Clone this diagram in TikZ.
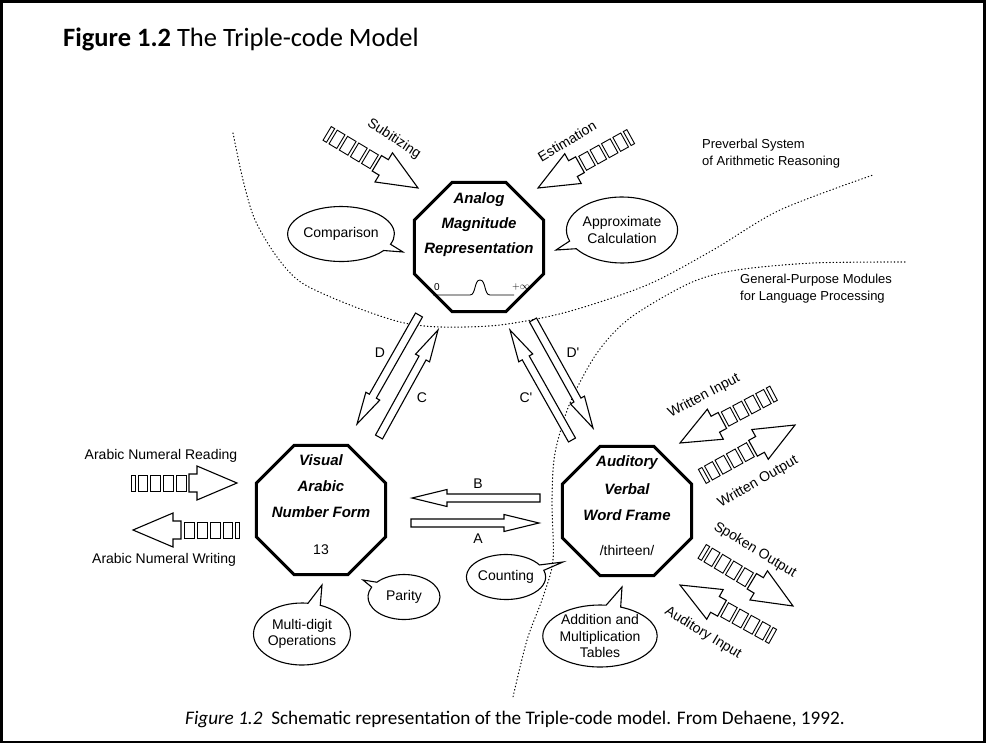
\documentclass[tikz,border=0pt]{standalone}
\usepackage{fontspec}
\setmainfont{Liberation Sans}
\newfontfamily\capfont{Carlito}
\usetikzlibrary{calc,shapes.geometric,shapes.callouts}

% hollow block arrow: from, to, shaft half width, head half width, head length
\newcommand\hollowarrow[5]{%
  \coordinate (hb) at ($(#2)!#5!(#1)$);
  \draw[arrowline] ($(#1)!#3!90:(#2)$) -- ($(hb)!#3!90:(#2)$) -- ($(hb)!#4!90:(#2)$)
    -- (#2) -- ($(hb)!#4!-90:(#2)$) -- ($(hb)!#3!-90:(#2)$) -- ($(#1)!#3!-90:(#2)$) -- cycle;
}

\tikzset{
  octagon/.style={regular polygon, regular polygon sides=8, minimum size=140pt,
    inner sep=0pt, draw, line width=3pt},
  octtext/.style={font=\fontsize{15}{15}\selectfont\bfseries\itshape, inner sep=0pt},
  plain/.style={font=\fontsize{14}{14}\selectfont, inner sep=0pt},
  small/.style={font=\fontsize{13}{17}\selectfont, inner sep=0pt, align=left},
  bubble/.style={ellipse callout, draw, line width=1.1pt, align=center, inner sep=0pt,
    font=\fontsize{14}{16.5}\selectfont},
  arrowline/.style={draw, line width=1.1pt, line join=miter, fill=white},
  boxline/.style={draw, line width=0.9pt, fill=white},
  boundary/.style={line width=1.1pt, dash pattern=on 0.6pt off 2.8pt, line cap=round},
  % input/output stream: block arrow with its tip at the origin, pointing along +x,
  % trailed by a row of boxes
  stream/.pic={
    \path[arrowline] (0,0) -- (-40,-17) -- (-40,-9) -- (-48,-9) -- (-48,9) -- (-40,9)
      -- (-40,17) -- cycle;
    \foreach \a/\b in {-51/-61,-64/-74,-77/-87,-90/-99,-102/-106}
      \path[boxline] (\a,-8) rectangle (\b,8);
  },
}

\begin{document}
\begin{tikzpicture}[x=1pt,y=-1pt]
\useasboundingbox (0,0) rectangle (986,744);
\fill[white] (0,0) rectangle (986,744);
\draw[line width=2.5pt] (1.5,1.5) rectangle (984.5,742);

% headings
\node[anchor=base west, inner sep=0pt] (title) at (63,46)
  {\capfont\fontsize{26.5}{26.5}\selectfont\textbf{Figure 1.2} The Triple-code Model};
\node[anchor=base west, inner sep=0pt] (caption) at (185,724)
  {\capfont\fontsize{19.2}{19.2}\selectfont\textit{Figure 1.2}\ \ Schematic representation of the Triple-code model. From Dehaene, 1992.};

% region boundaries
\draw[boundary] plot[smooth] coordinates {(233,133) (243,180) (255,220) (277,257) (302,283)
  (350,305) (400,322) (440,327) (500,325) (567,312) (647,285) (713,250) (780,210) (873,175)};
\draw[boundary] plot[smooth] coordinates {(905,262) (813,263) (737,270) (690,283) (630,318)
  (597,353) (570,403) (555,453) (552,500) (553,560) (543,597) (527,640) (513,697)};
\node[small, anchor=north west] (preverbal) at (702,139) {Preverbal System\\of Arithmetic Reasoning};
\node[small, anchor=north west] (language) at (740,274) {General-Purpose Modules\\for Language Processing};

% the three codes
\node[octagon] (analog) at (479,247) {};
\node[octtext] (an1) at (479,200) {Analog};
\node[octtext] (an2) at (479,225) {Magnitude};
\node[octtext] (an3) at (479,250) {Representation};
\node[plain, font=\fontsize{10}{10}\selectfont] (zero) at (437,287) {0};
\node[plain, font=\fontsize{10}{10}\selectfont] (inf) at (521,287) {$+\infty$};
\draw[line width=0.9pt] (433,295) -- (470,295) .. controls (476,295) and (474,280) .. (480,280)
  .. controls (486,280) and (484,295) .. (490,295) -- (514,295);

\node[octagon] (visual) at (321,510) {};
\node[octtext] (vi1) at (321,460) {Visual};
\node[octtext] (vi2) at (321,486) {Arabic};
\node[octtext] (vi3) at (321,512) {Number Form};
\node[plain] (vi4) at (321,550) {13};

\node[octagon] (verbal) at (627,511) {};
\node[octtext] (ve1) at (627,463) {Auditory};
\node[octtext] (ve2) at (627,489) {Verbal};
\node[octtext] (ve3) at (627,515) {Word Frame};
\node[plain] (ve4) at (627,550) {/thirteen/};

% transcoding routes
\coordinate (Bs) at (540,498); \coordinate (Be) at (412,498);
\coordinate (As) at (411,523); \coordinate (Ae) at (539,523);
\coordinate (Ds) at (419,315); \coordinate (De) at (357,424);
\coordinate (Cs) at (379,437); \coordinate (Ce) at (438,330);
\coordinate (C2s) at (572,440); \coordinate (C2e) at (510,330);
\coordinate (D2s) at (533,320); \coordinate (D2e) at (593,428);
\hollowarrow{Bs}{Be}{4pt}{8.5pt}{35pt}
\hollowarrow{As}{Ae}{4pt}{8.5pt}{35pt}
\hollowarrow{Ds}{De}{4pt}{8pt}{32pt}
\hollowarrow{Cs}{Ce}{4pt}{8pt}{32pt}
\hollowarrow{C2s}{C2e}{4pt}{8pt}{32pt}
\hollowarrow{D2s}{D2e}{4pt}{8pt}{32pt}
\node[plain] (lB) at (478,484) {B};
\node[plain] (lA) at (478,539) {A};
\node[plain] (lD) at (380,353) {D};
\node[plain] (lC) at (422,398) {C};
\node[plain] (lC2) at (526,398) {C\textquotesingle};
\node[plain] (lD2) at (573,353) {D\textquotesingle};

% inputs and outputs
\pic[rotate=-31] at (418,188) {stream};
\pic[rotate=209] at (538,188) {stream};
\pic at (237,483) {stream};
\pic[rotate=180] at (133,530) {stream};
\pic[rotate=208] at (680,443) {stream};
\pic[rotate=29] at (795,425) {stream};
\pic[rotate=-31] at (793,606) {stream};
\pic[rotate=151] at (680,585) {stream};
\node[plain, rotate=-33] (subit) at (394,139) {Subitizing};
\node[plain, rotate=31] (estim) at (567,141) {Estimation};
\node[plain] (aread) at (161,456) {Arabic Numeral Reading};
\node[plain] (awrite) at (164,560) {Arabic Numeral Writing};
\node[plain, rotate=28] (win) at (704,396) {Written Input};
\node[plain, rotate=30] (wout) at (758,482) {Written Output};
\node[plain, rotate=-31] (sout) at (755,550) {Spoken Output};
\node[plain, rotate=-31] (ain) at (703,633) {Auditory Input};

% associated processes
\coordinate (p1) at (403,252);
\coordinate (p2) at (556,250);
\coordinate (p3) at (563,562);
\coordinate (p4) at (363,580);
\coordinate (p5) at (322,585);
\coordinate (p6) at (622,587);
\node[bubble, minimum width=102pt, minimum height=55pt, callout absolute pointer={(p1)}]
  (comp) at (341,234) {Comparison};
\node[bubble, minimum width=109pt, minimum height=66pt, callout absolute pointer={(p2)}]
  (approx) at (622,230) {Approximate\\Calculation};
\node[bubble, minimum width=67pt, minimum height=45pt, callout absolute pointer={(p3)}]
  (count) at (506,577) {Counting};
\node[bubble, minimum width=72pt, minimum height=45pt, callout absolute pointer={(p4)}]
  (parity) at (404,597) {Parity};
\node[bubble, minimum width=97pt, minimum height=62pt, callout absolute pointer={(p5)}]
  (multi) at (302,634) {Multi-digit\\Operations};
\node[bubble, minimum width=105pt, minimum height=62pt, callout absolute pointer={(p6)}]
  (tables) at (600,636) {Addition and\\Multiplication\\Tables};
\end{tikzpicture}
\end{document}
